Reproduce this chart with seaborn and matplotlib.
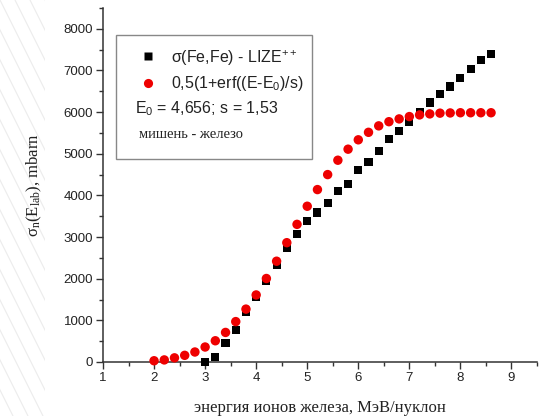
import matplotlib
matplotlib.use("Agg")
import matplotlib.pyplot as plt
import seaborn as sns
import pandas as pd
from matplotlib.lines import Line2D
from matplotlib.patches import Rectangle
from matplotlib.ticker import MultipleLocator

# ---- data ----
energy_fit = [2.0, 2.2, 2.4, 2.6, 2.8, 3.0, 3.2, 3.4, 3.6, 3.8, 4.0, 4.2, 4.4, 4.6,
              4.8, 5.0, 5.2, 5.4, 5.6, 5.8, 6.0, 6.2, 6.4, 6.6, 6.8, 7.0, 7.2, 7.4,
              7.6, 7.8, 8.0, 8.2, 8.4, 8.6]
sigma_fit = [30, 50, 100, 160, 240, 360, 510, 710, 970, 1270, 1610, 2005, 2420, 2865,
             3305, 3740, 4140, 4500, 4845, 5110, 5335, 5515, 5670, 5770, 5837, 5893,
             5933, 5957, 5975, 5980, 5985, 5985, 5985, 5985]
energy_lize = [3.0, 3.2, 3.4, 3.6, 3.8, 4.0, 4.2, 4.4, 4.6, 4.8, 5.0, 5.2, 5.4, 5.6,
               5.8, 6.0, 6.2, 6.4, 6.6, 6.8, 7.0, 7.2, 7.4, 7.6, 7.8, 8.0, 8.2, 8.4, 8.6]
sigma_lize = [0, 110, 465, 775, 1195, 1555, 1935, 2320, 2730, 3075, 3380, 3590, 3815,
              4105, 4268, 4605, 4804, 5068, 5357, 5556, 5773, 6013, 6230, 6438, 6614,
              6830, 7030, 7262, 7400]
x_ticks = [1, 2, 3, 4, 5, 6, 7, 8, 9]
y_ticks = [0, 1000, 2000, 3000, 4000, 5000, 6000, 7000, 8000]

label_lize = r"σ(Fe,Fe) - LIZE$^{\mathsf{++}}$"
label_fit = r"0,5(1+erf((E-E$_{\mathsf{0}}$)/s)"
params_text = r"E$_{\mathsf{0}}$ = 4,656; s = 1,53"
target_text = "мишень - железо"
xlabel = "энергия ионов железа, МэВ/нуклон"
ylabel = r"$\sigma_{\rm n}(E_{\rm lab})$, mbarn"

df_lize = pd.DataFrame({"E": energy_lize, "sigma": sigma_lize})
df_fit = pd.DataFrame({"E": energy_fit, "sigma": sigma_fit})

# ---- style ----
sns.set_style("ticks")
plt.rcParams["font.family"] = ["Liberation Sans", "DejaVu Sans"]
plt.rcParams["mathtext.fontset"] = "custom"
plt.rcParams["mathtext.rm"] = "Liberation Serif"
plt.rcParams["mathtext.it"] = "Liberation Serif:italic"
plt.rcParams["mathtext.sf"] = "Liberation Sans"
plt.rcParams["mathtext.default"] = "rm"

W, H = 539, 416
fig = plt.figure(figsize=(W / 100, H / 100), dpi=100)
fig.patch.set_facecolor("white")

# faint decorative diagonal stripes on the left margin (slide background)
bg = fig.add_axes([0, 0, 45 / W, 1], zorder=0)
bg.set_xlim(0, 45)
bg.set_ylim(416, 0)
bg.axis("off")
for k in range(-16, 6):
    x0 = k * 15
    bg.plot([x0, x0 + 208], [0, 416], color="#ececec", lw=0.8)

left, right, bottom, top = 103, 537, 362, 8
ax = fig.add_axes([left / W, 1 - bottom / H, (right - left) / W, (bottom - top) / H],
                  zorder=2)
ax.set_facecolor("none")

sns.scatterplot(data=df_lize, x="E", y="sigma", marker="s", s=34, color="black",
                edgecolor="none", ax=ax, zorder=3, clip_on=False)
sns.scatterplot(data=df_fit, x="E", y="sigma", marker="o", s=46, color="#ee0000",
                edgecolor="none", ax=ax, zorder=4, clip_on=False)

ax.set_xlim(1, 9.5)
ax.set_ylim(0, 8500)
ax.set_xticks(x_ticks)
ax.set_yticks(y_ticks)
ax.xaxis.set_minor_locator(MultipleLocator(0.5))
ax.yaxis.set_minor_locator(MultipleLocator(500))
ax.tick_params(which="major", direction="out", length=5, width=1.0, color="#333333",
               labelsize=9.5, labelcolor="#222222", pad=2)
ax.tick_params(which="minor", direction="out", length=3, width=1.0, color="#333333")
for s in ["top", "right"]:
    ax.spines[s].set_visible(False)
for s in ["left", "bottom"]:
    ax.spines[s].set_linewidth(1.1)
    ax.spines[s].set_color("#333333")

ax.set_xlabel(xlabel, family="Liberation Serif", fontsize=12, color="#222222", labelpad=12)
ax.set_ylabel(ylabel, family="Liberation Serif", fontsize=12, color="#222222", labelpad=14)

# legend box
def fx(px):
    return px / W

def fy(py):
    return 1 - py / H

ax.add_artist(Rectangle((fx(116), fy(159)), (312 - 116) / W, (159 - 35) / H,
                        transform=fig.transFigure, facecolor="white",
                        edgecolor="#888888", lw=1.0, zorder=5))
handles = [Line2D([], [], ls="none", marker="s", markersize=5.8, color="black",
                  markeredgecolor="none"),
           Line2D([], [], ls="none", marker="o", markersize=6.6, color="#ee0000",
                  markeredgecolor="none")]
leg = ax.legend(handles, [label_lize, label_fit], loc="upper left",
                bbox_to_anchor=(fx(140), fy(48)), bbox_transform=fig.transFigure,
                frameon=False, fontsize=11.5,
                handlelength=0.95, handletextpad=1.0, borderpad=0, borderaxespad=0,
                labelspacing=0.45, labelcolor="#222222")
leg.set_zorder(6)
ax.text(fx(135), fy(109), params_text, fontsize=11.5, color="#222222",
        va="center", ha="left", zorder=6, transform=fig.transFigure)
ax.text(fx(139), fy(134), target_text, family="Liberation Serif", fontsize=10.5,
        color="#222222", va="center", ha="left", zorder=6, transform=fig.transFigure)

fig.savefig("out.png", dpi=100)
